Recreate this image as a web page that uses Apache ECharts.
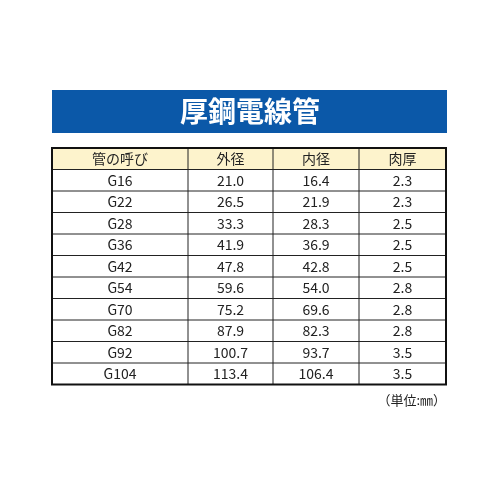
<!DOCTYPE html>
<html><head><meta charset="utf-8">
<script src="https://cdn.jsdelivr.net/npm/echarts@6/dist/echarts.min.js"></script>
<style>html,body{margin:0;background:#fff}#main{width:500px;height:500px}</style>
</head><body><div id="main"></div>
<script>
var title = '厚鋼電線管';
var headers = ['管の呼び', '外径', '内径', '肉厚'];
var names = ['G16', 'G22', 'G28', 'G36', 'G42', 'G54', 'G70', 'G82', 'G92', 'G104'];
var outer = ['21.0', '26.5', '33.3', '41.9', '47.8', '59.6', '75.2', '87.9', '100.7', '113.4'];
var inner = ['16.4', '21.9', '28.3', '36.9', '42.8', '54.0', '69.6', '82.3', '93.7', '106.4'];
var wall = ['2.3', '2.3', '2.5', '2.5', '2.5', '2.8', '2.8', '2.8', '3.5', '3.5'];
var unit = '（単位:㎜）';

var chart = echarts.init(document.getElementById('main'));
var font = '"Noto Sans CJK JP", sans-serif';
var colX = [52, 188, 273, 359, 446];
var top0 = 148, rowH = 21.5;
var els = [];
els.push({ type: 'rect', shape: { x: 52, y: 90, width: 395, height: 43 }, style: { fill: '#0b58a8' } });
els.push({ type: 'text', x: 250, y: 111, style: { text: title, fill: '#fff', font: 'bold 28px ' + font, align: 'center', verticalAlign: 'middle' } });
els.push({ type: 'rect', shape: { x: 52, y: top0, width: 394, height: rowH }, style: { fill: '#fdf3cc' } });
var rows = [headers];
for (var i = 0; i < names.length; i++) rows.push([names[i], outer[i], inner[i], wall[i]]);
rows.forEach(function (r, ri) {
  r.forEach(function (t, ci) {
    els.push({ type: 'text', x: (colX[ci] + colX[ci + 1]) / 2, y: top0 + rowH * ri + rowH / 2,
      style: { text: t, fill: '#222', font: '14px ' + font, align: 'center', verticalAlign: 'middle' } });
  });
  if (ri > 0) els.push({ type: 'line', shape: { x1: 52, y1: top0 + rowH * ri, x2: 446, y2: top0 + rowH * ri }, style: { stroke: '#222', lineWidth: 1 } });
});
var bottom = top0 + rowH * rows.length;
for (var c = 1; c < 4; c++) els.push({ type: 'line', shape: { x1: colX[c], y1: top0, x2: colX[c], y2: bottom }, style: { stroke: '#222', lineWidth: 1 } });
els.push({ type: 'rect', shape: { x: 52, y: top0, width: 394, height: bottom - top0 }, style: { fill: null, stroke: '#111', lineWidth: 2 } });
els.push({ type: 'text', x: 446, y: bottom + 16, style: { text: unit, fill: '#222', font: '13px ' + font, align: 'right', verticalAlign: 'middle' } });

chart.setOption({ graphic: els });
</script></body></html>
